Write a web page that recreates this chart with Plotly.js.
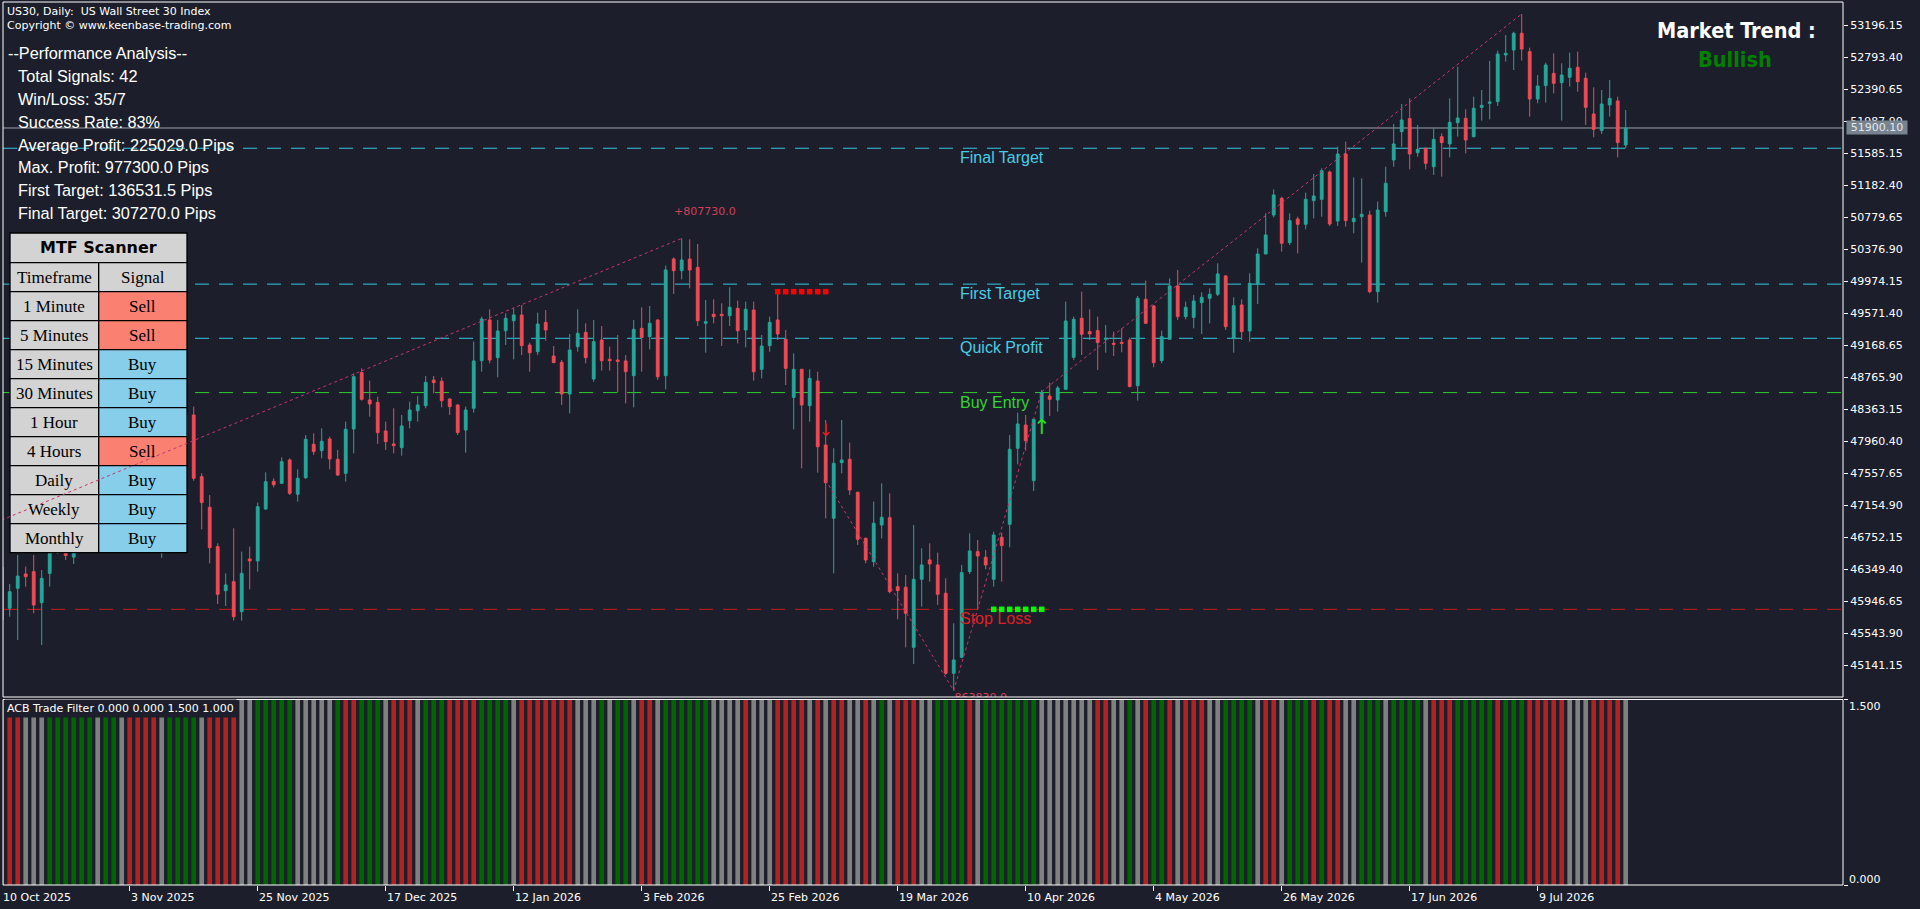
<!DOCTYPE html>
<html><head><meta charset="utf-8">
<script src="https://cdn.plot.ly/plotly-3.0.1.min.js"></script>
<style>html,body{margin:0;padding:0;background:#1c1f2b;overflow:hidden}#chart{width:1920px;height:909px}</style>
</head><body><div id="chart"></div>
<script>
// ---------------- DATA ----------------
const openP = [46375,45855,46107,46287,46316,45926,46295,46560,46640,46500,
46700,46950,47200,47120,47400,47600,47480,47750,47650,47900,
47780,47980,48100,47990,48288,47512,47126,46631,46077,46190,
45813,46476,46451,47105,47453,47428,47722,47290,47499,47919,
47839,47986,47730,47554,48112,48821,48477,48447,48087,47923,
47877,48217,48342,48405,48728,48712,48489,48414,48099,48372,
48972,49484,49009,49349,49475,49546,49169,49085,49454,49030,
48951,48552,49148,49328,48741,49232,48989,48980,48968,48783,
49379,49274,49484,48783,50251,50104,50251,50146,49442,49555,
49555,49538,49630,49358,49609,48863,49161,49484,49240,48510,
48863,48405,48716,47910,46988,47688,47730,47315,46736,46442,
46904,46996,46128,46120,45364,46220,46464,46401,46044,45037,
45239,46317,46568,46497,46220,46749,46912,47869,48162,47462,
48234,48527,48477,48611,49014,49505,49337,49350,49241,49190,
49203,49232,48657,49744,49660,48972,49241,49912,49526,49517,
49702,49757,49807,50038,49253,49673,49345,49937,50314,50805,
51015,50457,50755,50688,50986,51002,51346,50730,51573,50721,
50784,50805,49840,50847,51497,51854,52018,51590,51644,51413,
51791,51699,51967,52022,51791,52160,52211,52232,52819,52882,
53092,52861,52265,52433,52588,52471,52538,52664,52525,52076,
51867,52190,52240,51686];
const highP = [46463,46161,46526,46379,46526,46337,46652,46760,46720,46780,
47010,47280,47300,47460,47680,47700,47820,47880,47980,48010,
48050,48200,48180,48350,48393,47554,47281,46673,46295,46862,
46568,46631,47185,47566,47491,47755,47743,47604,48036,48057,
48120,48015,47848,48204,48812,48875,48720,48519,48204,48372,
48288,48456,48527,48779,48779,48762,48498,48422,48393,49211,
49525,49618,49484,49567,49630,49672,49198,49576,49609,49156,
48980,49307,49618,49442,49484,49408,49148,49295,49043,49484,
49643,49660,49492,50167,50272,50511,50499,50440,49735,49744,
49693,49895,49727,49714,49714,49295,49525,49840,49358,49064,
48863,48863,48833,48225,47869,48225,47940,47324,46745,47198,
47428,47302,46296,46275,46904,46610,46673,46556,46233,45666,
46401,46799,46715,46589,46820,46807,48037,48318,48288,48234,
48603,48695,48653,49715,49526,49840,49618,49526,49421,49337,
49379,49262,49786,49979,49673,49350,50008,50113,49715,49799,
49832,49882,50197,50050,49769,49744,50071,50386,50826,51128,
51036,50826,50784,51086,51321,51393,51363,51665,51728,51279,
51267,50860,50973,51413,51950,52202,52273,51938,51657,51896,
51833,52273,52672,52135,52294,52378,52743,52873,53071,53112,
53335,52911,52567,52722,52840,52714,52848,52861,52596,52412,
52378,52504,52294,52127];
const lowP = [45191,45749,45456,46127,45792,45393,46127,46540,46463,46412,
46620,46880,46990,47060,47330,47380,47420,47560,47600,47700,
46490,47850,47880,47920,47460,46849,46421,45909,45884,45700,
45700,46094,46316,47093,47378,47420,47281,47197,47483,47785,
47743,47604,47520,47449,47806,48468,48267,47923,47848,47806,
47776,48120,48204,48372,48561,48384,48288,48036,47814,48317,
48833,48938,48762,49169,48988,49043,48833,49043,49223,48947,
48414,48309,49085,48938,48707,48846,48846,48569,48435,48384,
48833,49114,48728,48611,49811,49995,49882,49408,49072,49442,
49156,49408,49190,49140,48720,48749,49085,49232,48665,48108,
47617,48204,47562,46988,46296,47554,47282,46652,46421,46380,
46736,46044,45717,45364,45155,45876,46191,45897,45016,44819,
45226,46287,45847,46346,46128,46191,46623,47667,47839,47332,
48217,48276,48330,48611,48981,49043,49232,48855,49073,49031,
49077,48636,48469,49434,48888,48939,49232,49484,49492,49379,
49308,49442,49786,49358,49073,49232,49211,49685,50314,50776,
50344,50428,50323,50625,50763,50784,50667,50667,50658,50575,
50205,49819,49702,50784,51413,51665,51380,51539,51380,51309,
51288,51531,51791,51581,51783,51992,52009,52177,52735,52630,
52748,52043,52211,52219,52336,51992,52420,52357,51938,51783,
51825,52043,51531,51644];
const closeP = [45708,46064,46261,46253,45897,46232,46547,46650,46520,46700,
46950,47200,47120,47400,47600,47480,47750,47650,47900,47780,
47980,48100,47990,48290,47491,47185,46618,46031,46149,45750,
46295,46451,47134,47449,47411,47701,47302,47491,47982,47827,
47957,47734,47533,48108,48770,48485,48426,48066,47952,47902,
48150,48351,48414,48699,48695,48468,48393,48066,48351,48968,
49496,48980,49345,49505,49546,49161,49072,49433,49358,48947,
48552,49106,49316,49009,49211,48972,48972,48963,48833,49366,
49265,49442,48770,50113,50104,50239,50113,49475,49463,49525,
49538,49643,49349,49618,48833,49156,49454,49307,48875,48863,
48414,48749,47889,47436,47680,47722,47344,46724,46463,46925,
47000,46065,46078,45792,46220,46401,46413,46031,45037,45205,
46304,46577,46514,46401,46778,46644,47856,48175,47965,48234,
48574,48485,48628,49471,49492,49304,49308,49199,49253,49178,
49190,48645,49757,49442,48947,49274,49912,49526,49643,49723,
49769,49807,50063,49400,49664,49337,49945,50314,50554,51057,
50449,50734,50688,51002,51044,51363,50692,51573,50734,50763,
50814,49840,50868,51204,51699,52001,51573,51632,51455,51757,
51716,51971,52026,51749,52148,52185,52227,52831,52840,53092,
52894,52265,52429,52693,52462,52567,52651,52483,52160,51883,
52202,52273,51716,51900.1];

// ACB Trade Filter state per bar: G = green, R = red, N = neutral (gray)
const filterState = ("RRRNNN"+"GGGGGG"+"N"+"GG"+"N"+"RRRR"+"N"+"GGGG"+"N"+"RRRR"+"NN"+"GGGGG"+"NNNNN"+"G"+"RR"+"GGG"+"N"+"RRR"+"N"+"GGG"+"RRRR"+"GGGG"+"N"+"RRRRRRR"+"NNN"+"G"+"N"+"GG"+"N"+"RR"+"N"+"GGGGGG"+"NNNN"+"R"+"NNN"+"RRRR"+"N"+"R"+"N"+"RR"+"NN"+"R"+"N"+"G"+"N"+"RRR"+"NN"+"GGGG"+"R"+"N"+"GGGGGGG"+"NNNNNNN"+"RR"+"NN"+"G"+"N"+"R"+"GG"+"R"+"N"+"RRR"+"NN"+"GGGG"+"N"+"RR"+"N"+"GGG"+"R"+"G"+"RR"+"NN"+"GGG"+"N"+"GGGG"+"N"+"RRR"+"GGGGG"+"R"+"GGG"+"RRRRR"+"NNN"+"RRRR"+"N").split('');
const filterLevel = 1.5;

const dateIdx = [0,16,32,48,64,80,96,112,128,144,160,176,192];
const dateLabels = ['10 Oct 2025','3 Nov 2025','25 Nov 2025','17 Dec 2025','12 Jan 2026','3 Feb 2026','25 Feb 2026','19 Mar 2026','10 Apr 2026','4 May 2026','26 May 2026','17 Jun 2026','9 Jul 2026'];
const priceTickText = ['45141.15','45543.90','45946.65','46349.40','46752.15','47154.90','47557.65','47960.40','48363.15','48765.90','49168.65','49571.40','49974.15','50376.90','50779.65','51182.40','51585.15','51987.90','52390.65','52793.40','53196.15'];
const bidPrice = 51900.10;

const levelNames = ['Final Target','First Target','Quick Profit','Buy Entry','Stop Loss'];
const levelPrices = [51645, 49935, 49253, 48570, 45842];

// trade / zigzag lines: start bar, start price, end bar, end price
const tradeStartIdx = [0, 103, 119, 130];
const tradeStartP   = [46966, 47467, 44819, 48581];
const tradeEndIdx   = [85, 119, 130, 190];
const tradeEndP     = [50511, 44819, 48581, 53335];
const tradeLabels   = ['+807730.0', '-863830.0'];

const sellMarkIdx = [97,98,99,100,101,102,103];
const sellMarkLevel = 49840;
const buyMarkIdx = [124,125,126,127,128,129,130];
const buyMarkLevel = 45842;
const sellArrow = {idx:103, price:48074};
const buyArrow = {idx:130, price:48115};

const perfLines = ['--Performance Analysis--','Total Signals: 42','Win/Loss: 35/7','Success Rate: 83%','Average Profit: 225029.0 Pips','Max. Profit: 977300.0 Pips','First Target: 136531.5 Pips','Final Target: 307270.0 Pips'];
const tfNames = ['1 Minute','5 Minutes','15 Minutes','30 Minutes','1 Hour','4 Hours','Daily','Weekly','Monthly'];
const tfSignals = ['Sell','Sell','Buy','Buy','Buy','Sell','Buy','Buy','Buy'];
const trendLabel = 'Market Trend :';
const trendValue = 'Bullish';

// ---------------- STYLE / LAYOUT ----------------
const BG = '#1c1f2b';
const W = 1920, H = 909, ML = 3, MR = 77, MT = 2, MB = 24;
const PW = W - ML - MR, PH = H - MT - MB;
const px = x => (x - ML) / PW;
const py = y => (H - MB - y) / PH;
const XR = [0.1625, 230.1625];
const xPaper = i => (i - XR[0]) / (XR[1] - XR[0]);
const pxPerBar = 8;
const YR = [44738.6, 53485.8];
const pricePerPx = (YR[1] - YR[0]) / (697 - 2);

const levelStyle = {
  'Final Target': {line:'#34c8e4', text:'#48cde6'},
  'First Target': {line:'#34c8e4', text:'#48cde6'},
  'Quick Profit': {line:'#34c8e4', text:'#48cde6'},
  'Buy Entry':    {line:'#2ecc2e', text:'#34d434'},
  'Stop Loss':    {line:'#c81c1c', text:'#e01e26'}
};
const filterColor = {G:'#006400', R:'#b22222', N:'#808080'};
const idx = openP.map((_, i) => i);

const traces = [];
traces.push({
  type:'candlestick', x:idx, open:openP, high:highP, low:lowP, close:closeP,
  xaxis:'x', yaxis:'y', whiskerwidth:0, hoverinfo:'skip',
  increasing:{line:{color:'#26a69a', width:1}, fillcolor:'#26a69a'},
  decreasing:{line:{color:'#ef4b55', width:1}, fillcolor:'#ef4b55'}
});
traces.push({
  type:'bar', x:idx, y:filterState.map(() => filterLevel), xaxis:'x', yaxis:'y2',
  marker:{color:filterState.map(s => filterColor[s]), line:{width:0}}, hoverinfo:'skip'
});
traces.push({
  type:'scatter', mode:'markers', x:sellMarkIdx, y:sellMarkIdx.map(() => sellMarkLevel),
  xaxis:'x', yaxis:'y', marker:{symbol:'square', size:5.5, color:'#ff0000'}, hoverinfo:'skip'
});
traces.push({
  type:'scatter', mode:'markers', x:buyMarkIdx, y:buyMarkIdx.map(() => buyMarkLevel),
  xaxis:'x', yaxis:'y', marker:{symbol:'square', size:5.5, color:'#00ff00'}, hoverinfo:'skip'
});
traces.push({
  type:'scatter', mode:'text', x:[sellArrow.idx], y:[sellArrow.price], text:['↓'],
  textfont:{family:'DejaVu Sans', size:17, color:'#e81c1c'}, textposition:'middle center',
  xaxis:'x', yaxis:'y', hoverinfo:'skip'
});
traces.push({
  type:'scatter', mode:'text', x:[buyArrow.idx], y:[buyArrow.price], text:['↑'],
  textfont:{family:'DejaVu Sans', size:21, color:'#22e022'}, textposition:'middle center',
  xaxis:'x', yaxis:'y', hoverinfo:'skip'
});
// clipped label below the low of the second trade
traces.push({
  type:'scatter', mode:'text', cliponaxis:true,
  x:[tradeEndIdx[1] + 25 / pxPerBar], y:[tradeEndP[1] - 8 * pricePerPx], text:[tradeLabels[1]],
  textfont:{family:'DejaVu Sans', size:11, color:'#d0405a'}, textposition:'middle center',
  xaxis:'x', yaxis:'y', hoverinfo:'skip'
});

const shapes = [];
levelNames.forEach((n, k) => {
  shapes.push({type:'line', xref:'paper', yref:'y', x0:0, x1:1, y0:levelPrices[k], y1:levelPrices[k],
    line:{color:levelStyle[n].line, width:1, dash:'14px,10px'}, layer:'below'});
});
shapes.push({type:'line', xref:'paper', yref:'y', x0:0, x1:1, y0:bidPrice, y1:bidPrice,
  line:{color:'#9aa0a8', width:1}, layer:'below'});

// MTF table
const tL = 10, tM = 98.7, tR = 187;
const rowEdges = [233, 262.7, 291.7, 320.7, 349.7, 378.7, 407.7, 436.7, 465.7, 494.7, 523.7, 552.7];
const cellShape = (x0, x1, y0, y1, fill) => ({type:'rect', xref:'paper', yref:'paper',
  x0:px(x0), x1:px(x1), y0:py(y1), y1:py(y0), fillcolor:fill, line:{color:'#000000', width:1.3}, layer:'above'});
shapes.push(cellShape(tL, tR, rowEdges[0], rowEdges[1], '#d3d3d3'));
shapes.push(cellShape(tL, tM, rowEdges[1], rowEdges[2], '#d3d3d3'));
shapes.push(cellShape(tM, tR, rowEdges[1], rowEdges[2], '#d3d3d3'));
tfNames.forEach((n, k) => {
  shapes.push(cellShape(tL, tM, rowEdges[k+2], rowEdges[k+3], '#d3d3d3'));
  shapes.push(cellShape(tM, tR, rowEdges[k+2], rowEdges[k+3], tfSignals[k] === 'Sell' ? '#fa8072' : '#87ceeb'));
});
tradeStartIdx.forEach((s, k) => {
  shapes.push({type:'line', xref:'x', yref:'y', x0:s, y0:tradeStartP[k], x1:tradeEndIdx[k], y1:tradeEndP[k],
    line:{color:'#c8346e', width:1, dash:'3px,3px'}, layer:'above'});
});
shapes.push({type:'rect', xref:'paper', yref:'paper', x0:0, x1:1, y0:py(697), y1:1, line:{color:'#ffffff', width:1}, fillcolor:'rgba(0,0,0,0)', layer:'above'});
shapes.push({type:'rect', xref:'paper', yref:'paper', x0:0, x1:1, y0:0, y1:py(699.5), line:{color:'#ffffff', width:1}, fillcolor:'rgba(0,0,0,0)', layer:'above'});

const annotations = [];
const A = (text, xp, yp, font, opts) => Object.assign({xref:'paper', yref:'paper', x:px(xp), y:py(yp), text, showarrow:false,
  xanchor:'left', yanchor:'middle', font}, opts || {});
const fSmall = {family:'DejaVu Sans', size:11, color:'#ffffff'};
annotations.push(A('US30, Daily:\u00a0\u00a0US Wall Street 30 Index', 5, 11.5, fSmall));
annotations.push(A('Copyright © www.keenbase-trading.com', 5, 25.5, fSmall));
const perfY = [53, 76, 99, 122, 144.5, 167.5, 190, 213];
perfLines.forEach((t, k) => {
  annotations.push(A(t, k === 0 ? 6 : 16, perfY[k], {family:'Liberation Sans, Arial, sans-serif', size:16.3, color:'#ffffff'}));
});
annotations.push(A('<b>MTF Scanner</b>', (tL+tR)/2, (rowEdges[0]+rowEdges[1])/2, {family:'DejaVu Sans', size:16, color:'#000000'}, {xanchor:'center'}));
const fCell = {family:'Liberation Serif, Times New Roman, serif', size:17, color:'#000000'};
annotations.push(A('Timeframe', (tL+tM)/2, (rowEdges[1]+rowEdges[2])/2, fCell, {xanchor:'center'}));
annotations.push(A('Signal', (tM+tR)/2, (rowEdges[1]+rowEdges[2])/2, fCell, {xanchor:'center'}));
tfNames.forEach((n, k) => {
  const yc = (rowEdges[k+2] + rowEdges[k+3]) / 2;
  annotations.push(A(n, (tL+tM)/2, yc, fCell, {xanchor:'center'}));
  annotations.push(A(tfSignals[k], (tM+tR)/2, yc, fCell, {xanchor:'center'}));
});
const fTrend = {family:'DejaVu Sans Condensed, DejaVu Sans, sans-serif', size:21.5, weight:'bold'};
annotations.push(A('<b>' + trendLabel + '</b>', 1736.5, 30, Object.assign({color:'#ffffff'}, fTrend), {xanchor:'center'}));
annotations.push(A('<b>' + trendValue + '</b>', 1734.5, 60, Object.assign({color:'#008000'}, fTrend), {xanchor:'center'}));
levelNames.forEach((n, k) => {
  annotations.push({xref:'x', yref:'y', x:119.8, y:levelPrices[k], yshift:-9.5, xshift:-2, text:n, showarrow:false,
    xanchor:'left', yanchor:'middle', font:{family:'Liberation Sans, Arial, sans-serif', size:16, color:levelStyle[n].text}});
});
annotations.push({xref:'x', yref:'y', x:tradeEndIdx[0], y:tradeEndP[0], xshift:23, yshift:27, text:tradeLabels[0], showarrow:false,
  xanchor:'center', yanchor:'middle', font:{family:'DejaVu Sans', size:11, color:'#d0405a'}});
annotations.push({xref:'paper', yref:'y', x:1, xshift:3, y:bidPrice, text:bidPrice.toFixed(2), showarrow:false,
  xanchor:'left', yanchor:'middle', width:60, height:13, bgcolor:'#77838f', borderpad:0,
  font:{family:'DejaVu Sans', size:11, color:'#e4e8ec'}});
annotations.push(A('ACB Trade Filter 0.000 0.000 1.500 1.000', 3.5, 708, fSmall, {bgcolor:BG, borderpad:2}));
annotations.push({xref:'paper', yref:'y2', x:1, xshift:4, y:1.5, yshift:-7, text:'1.500', showarrow:false, xanchor:'left', yanchor:'middle', font:fSmall});
annotations.push({xref:'paper', yref:'y2', x:1, xshift:4, y:0, yshift:6, text:'0.000', showarrow:false, xanchor:'left', yanchor:'middle', font:fSmall});
dateIdx.forEach((d, k) => {
  annotations.push({xref:'paper', yref:'paper', x:xPaper(d), y:py(897), xshift:-1, text:dateLabels[k], showarrow:false,
    xanchor:'left', yanchor:'middle', font:fSmall});
});

const layout = {
  width:W, height:H,
  margin:{l:ML, r:MR, t:MT, b:MB, pad:0},
  paper_bgcolor:BG, plot_bgcolor:BG,
  showlegend:false, hovermode:false, dragmode:false,
  boxgap:0.5, bargap:0.42,
  xaxis:{range:XR, anchor:'y2', showgrid:false, zeroline:false, showline:false,
    tickmode:'array', tickvals:dateIdx, ticks:'outside', ticklen:5, tickwidth:1, tickcolor:'#ffffff',
    showticklabels:false, rangeslider:{visible:false}, fixedrange:true},
  yaxis:{domain:[py(697), 1], range:YR, side:'right', anchor:'x', showgrid:false, zeroline:false, showline:false,
    tickmode:'array', tickvals:priceTickText.map(Number), ticktext:priceTickText, ticks:'outside', ticklen:4, tickwidth:1,
    tickcolor:'#ffffff', tickfont:fSmall, fixedrange:true},
  yaxis2:{domain:[0, py(699.5)], range:[0, 1.5], side:'right', anchor:'x', showgrid:false, zeroline:false, showline:false,
    tickmode:'array', tickvals:[0, 1.5], ticks:'outside', ticklen:4, tickwidth:1, tickcolor:'#ffffff', showticklabels:false, fixedrange:true},
  shapes, annotations
};
Plotly.newPlot('chart', traces, layout, {displayModeBar:false, staticPlot:true});
</script></body></html>
